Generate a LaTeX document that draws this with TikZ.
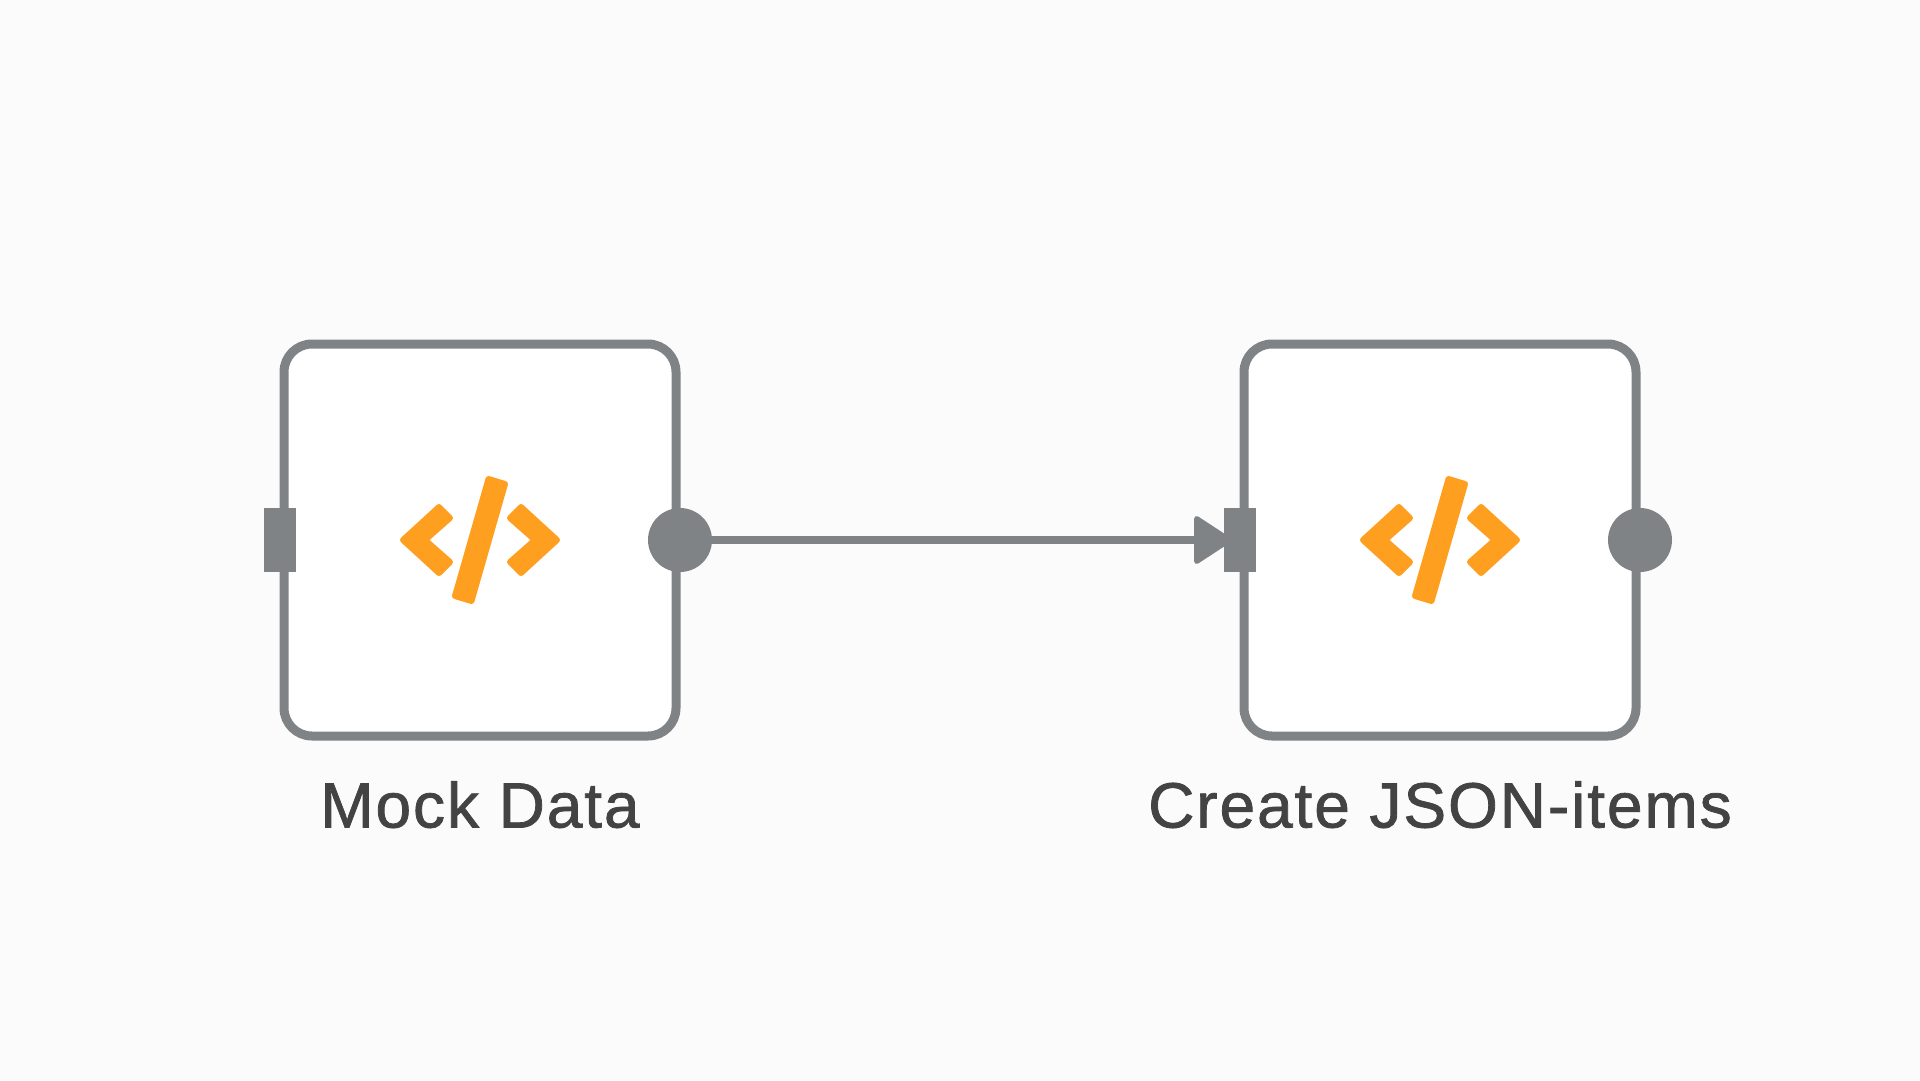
\documentclass[tikz,border=0pt]{standalone}
\usepackage{fontspec}
\setmainfont[LetterSpace=3,FakeBold=1.2]{Liberation Sans}
\usetikzlibrary{arrows.meta,backgrounds}
\definecolor{bgc}{HTML}{FBFBFB}
\definecolor{linec}{HTML}{808386}
\definecolor{iconc}{HTML}{FF9F1F}
\definecolor{textc}{HTML}{434343}
\tikzset{
  card/.style={draw=linec,line width=9pt,fill=white,rounded corners=28pt,minimum width=392pt,minimum height=392pt,inner sep=0pt,outer sep=0pt},
  inport/.style={fill=linec,minimum width=32pt,minimum height=64pt,inner sep=0pt,outer sep=0pt},
  outport/.style={circle,fill=linec,minimum size=64pt,inner sep=0pt,outer sep=0pt},
  caption/.style={anchor=base,text=textc,font=\fontsize{64}{70}\selectfont,inner sep=0pt},
  wire/.style={draw=linec,line width=8pt},
  glyph/.style={fill=iconc,draw=iconc,line width=6pt,line join=round},
  pics/codeicon/.style={code={
    \path[glyph] (-77,0) -- (-41,-33) -- (-30,-22) -- (-55,0) -- (-30,22) -- (-41,33) -- cycle;
    \path[glyph] (77,0) -- (41,-33) -- (30,-22) -- (55,0) -- (30,22) -- (41,33) -- cycle;
    \path[glyph] (8.5,-61) -- (25,-56) -- (-8.5,61) -- (-25,56) -- cycle;
  }}
}
\begin{document}
\begin{tikzpicture}[x=1pt,y=-1pt]
\useasboundingbox (0,0) rectangle (1920,1080);
\node[card] (mock) at (480,540) {};
\node[card] (json) at (1440,540) {};
\pic at (480,540) {codeicon};
\pic at (1440,540) {codeicon};
\node[outport] (mockout) at (680,540) {};
\node[inport] (mockin) at (280,540) {};
\node[outport] (jsonout) at (1640,540) {};
\node[inport] (jsonin) at (1240,540) {};
\node[caption] (mocklabel) at (480,827.5) {Mock Data};
\node[caption] (jsonlabel) at (1440,827.5) {Create JSON-items};
\begin{pgfonlayer}{background}
\fill[bgc] (0,0) rectangle (1920,1080);
\draw[wire,-{Triangle[length=40pt,width=51pt,line width=5pt,round]},shorten >=-8pt] (mockout) -- (jsonin);
\end{pgfonlayer}
\end{tikzpicture}
\end{document}
